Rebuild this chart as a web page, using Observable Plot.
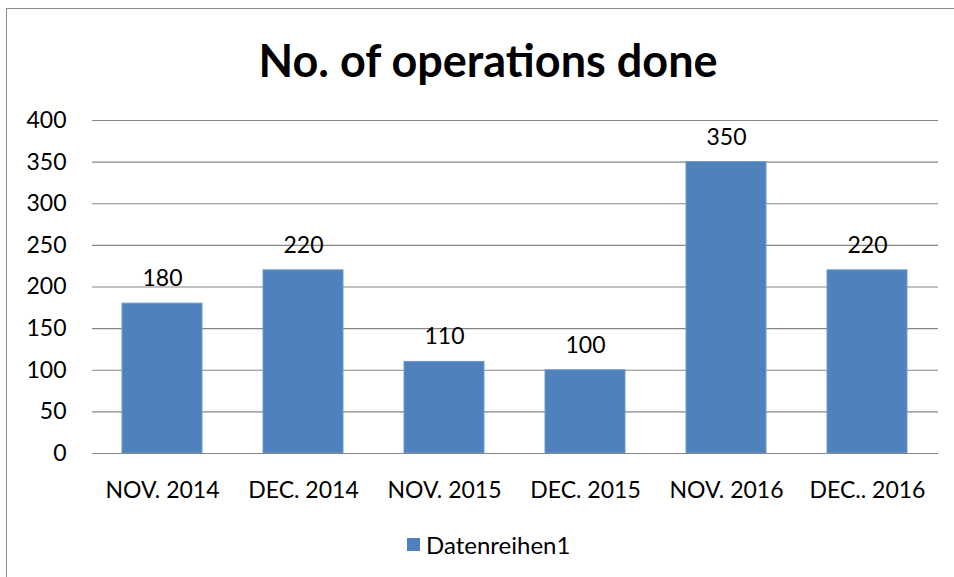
<!DOCTYPE html>
<html>
<head>
<meta charset="utf-8">
<script src="https://cdn.jsdelivr.net/npm/d3@7"></script>
<script src="https://cdn.jsdelivr.net/npm/@observablehq/plot@0.6"></script>
<style>
  html, body { margin: 0; padding: 0; background: #fff; }
  #wrap { position: relative; width: 954px; height: 577px; overflow: hidden; font-family: Lato, "Open Sans", sans-serif; }
  #frame { position: absolute; left: 6px; top: 8px; width: 960px; height: 600px; border: 1.5px solid #8c8c8c; box-sizing: border-box; }
  #title { position: absolute; left: 0; top: 30px; width: 976px; text-align: center; font-size: 45px; font-weight: 700; color: #000; line-height: 60px; }
  #chart { position: absolute; left: 0; top: 100px; }
  #legend { position: absolute; left: 407px; top: 530px; font-size: 24px; color: #000; display: flex; align-items: center; }
  #legend span.sw { display: inline-block; width: 13px; height: 13px; background: #4F81BD; margin-right: 6px; }
</style>
</head>
<body>
<div id="wrap">
  <div id="frame"></div>
  <div id="title">No. of operations done</div>
  <div id="chart"></div>
  <div id="legend"><span class="sw"></span><span>Datenreihen1</span></div>
</div>
<script>
const categories = ["NOV. 2014", "DEC. 2014", "NOV. 2015", "DEC. 2015", "NOV. 2016", "DEC.. 2016"];
const values = [180, 220, 110, 100, 350, 220];
const yTicks = [0, 50, 100, 150, 200, 250, 300, 350, 400];
const seriesName = "Datenreihen1";

const data = categories.map((c, i) => ({category: c, value: values[i], series: seriesName}));

const chart = Plot.plot({
  width: 954,
  height: 403,
  marginLeft: 92,
  marginRight: 16,
  marginTop: 20,
  marginBottom: 50,
  style: {fontFamily: "Lato, 'Open Sans', sans-serif", fontSize: "23px", color: "#000", background: "transparent"},
  x: {domain: categories, paddingInner: 0.43, paddingOuter: 0.215, label: null, tickSize: 0},
  y: {domain: [0, 400], ticks: yTicks, label: null, tickSize: 0},
  marks: [
    Plot.gridY(yTicks, {stroke: "#868686", strokeOpacity: 1, strokeWidth: 1.2}),
    Plot.barY(data, {x: "category", y: "value", fill: "#4F81BD", stroke: "#6f9ad0", strokeWidth: 1}),
    Plot.ruleY([0], {stroke: "#868686", strokeWidth: 1.2}),
    Plot.text(data, {x: "category", y: "value", text: d => String(d.value), dy: -25, fontSize: 23, fill: "#000"}),
    Plot.axisY(yTicks, {tickSize: 0, tickPadding: 26, fontSize: 23, fill: "#000"}),
    Plot.axisX({tickSize: 0, tickPadding: 28, fontSize: 23, fill: "#000"})
  ]
});
document.getElementById("chart").appendChild(chart);
</script>
</body>
</html>
